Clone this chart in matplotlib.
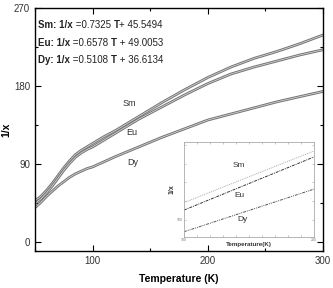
import matplotlib
matplotlib.use("Agg")
import matplotlib.pyplot as plt
import matplotlib.patheffects as pe
from matplotlib.ticker import MultipleLocator

plt.rcParams['font.family'] = ['Liberation Sans', 'DejaVu Sans']

# main curves
temp = [50, 55, 60, 65, 70, 75, 80, 85, 90, 95, 100, 110, 120, 140, 160, 180,
        200, 220, 240, 260, 280, 300]
sm = [48, 53, 60, 68, 77, 86, 94, 101, 106, 110, 114, 122, 129, 145, 161, 176,
      190, 202, 212, 220, 229, 239]
eu = [45, 50, 57, 65, 74, 83, 91, 98, 103, 107, 110, 118, 126, 142, 156, 170,
      183, 194, 202, 209, 216, 222]
dy = [40, 46, 53, 59, 65, 70, 75, 79, 82, 85, 87, 93, 99, 110, 121, 131,
      141, 148, 155, 162, 168, 174]

# inset (100-200 K)
inset_t = [100, 200]
inset_sm = [123, 192]
inset_eu = [113, 184]
inset_dy = [84, 141]

fits = [("Sm:", "0.7325 ", "T", "+ 45.5494"),
        ("Eu:", "0.6578 ", "T", " + 49.0053"),
        ("Dy:", "0.5108 ", "T", " + 36.6134")]

fig = plt.figure(figsize=(3.33, 2.88), dpi=100)
ax = fig.add_axes([0.105, 0.128, 0.865, 0.844])

fx = [pe.Stroke(linewidth=2.0, foreground='#777777'), pe.Normal()]
for ys in (sm, eu, dy):
    ax.plot(temp, ys, color='#dddddd', lw=0.5, path_effects=fx)

ax.set_xlim(50, 300)
ax.set_ylim(-10, 270)
ax.set_xticks([100, 200, 300])
ax.set_yticks([0, 90, 180, 270])
ax.xaxis.set_minor_locator(MultipleLocator(50))
ax.yaxis.set_minor_locator(MultipleLocator(45))
ax.tick_params(which='both', direction='in', top=True, right=True,
               labelsize=7, labelcolor='#333333', width=0.8)
ax.tick_params(which='major', length=4)
ax.tick_params(which='minor', length=2.5)
for s in ax.spines.values():
    s.set_linewidth(1.0)
ax.set_xlabel('Temperature (K)', fontsize=7.5, fontweight='bold', labelpad=6)
ax.set_ylabel('1/x', fontsize=7.5, fontweight='bold', labelpad=2)

ax.text(132, 160, 'Sm', fontsize=6.5, ha='center', va='center', color='#333333')
ax.text(134, 127, 'Eu', fontsize=6.5, ha='center', va='center', color='#333333')
ax.text(135, 92, 'Dy', fontsize=6.5, ha='center', va='center', color='#333333')

# fit equations, mixed bold / regular
fig.canvas.draw()
r = fig.canvas.get_renderer()
for i, (name, slope, tt, rest) in enumerate(fits):
    y = 1 - (25 + i * 17.5) / 288
    x = 38 / 333
    for txt, w in ((name + " 1/x", 'bold'), (" =" + slope, 'normal'), (tt, 'bold'), (rest, 'normal')):
        t = fig.text(x, y, txt, fontsize=7, fontweight=w, va='center', color='#222222')
        bb = t.get_window_extent(renderer=r)
        x += bb.width / fig.bbox.width

# inset
ins = fig.add_axes([184 / 333, 1 - 237 / 288, 130 / 333, 95 / 288])
ins.plot(inset_t, inset_sm, color='#aaaaaa', lw=0.7, ls=(0, (1, 1)))
ins.plot(inset_t, inset_eu, color='#333333', lw=0.7, ls=(0, (3, 1, 1, 1)))
ins.plot(inset_t, inset_dy, color='#555555', lw=0.7, ls=(0, (3, 1, 1, 1, 1, 1)))
ins.set_xlim(100, 200)
ins.set_ylim(77, 204)
ins.set_xticks([100, 200])
ins.set_yticks([100, 150])
ins.set_yticklabels(['100', ''])
ins.xaxis.set_minor_locator(MultipleLocator(10))
ins.yaxis.set_minor_locator(MultipleLocator(25))
ins.tick_params(which='both', direction='in', top=True, right=True,
                labelsize=2.5, labelcolor='#777777', length=1.5, width=0.4,
                color='#999999', pad=1)
for s in ins.spines.values():
    s.set_linewidth(0.6)
    s.set_color('#aaaaaa')
ins.set_xlabel('Temperature(K)', fontsize=4.5, fontweight='bold', labelpad=0, color='#333333')
ins.set_ylabel('1/x', fontsize=5, fontweight='bold', labelpad=1, color='#333333')
ins.text(142, 172, 'Sm', fontsize=6, ha='center', va='center', color='#333333')
ins.text(143, 133, 'Eu', fontsize=6, ha='center', va='center', color='#333333')
ins.text(145, 101, 'Dy', fontsize=6, ha='center', va='center', color='#333333')

fig.savefig('out.png', dpi=100)
